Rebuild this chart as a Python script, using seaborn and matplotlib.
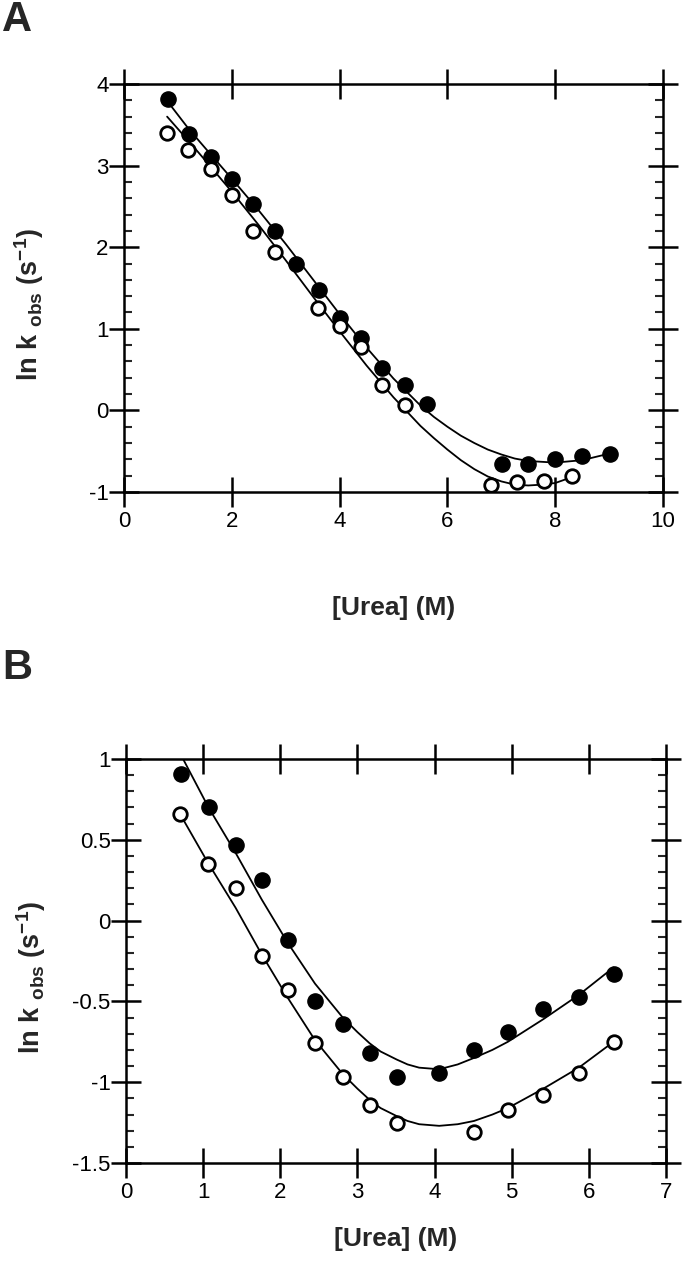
import numpy as np
import pandas as pd
import matplotlib
matplotlib.use("Agg")
import matplotlib.pyplot as plt
from matplotlib.ticker import MultipleLocator
import seaborn as sns

# ---- panel A data ----
a_filled_x = [0.81, 1.20, 1.61, 2.00, 2.40, 2.81, 3.20, 3.61, 4.00, 4.39, 4.79, 5.21, 5.62, 7.01, 7.49, 7.99, 8.50, 9.01]
a_filled_y = [3.82, 3.39, 3.10, 2.83, 2.53, 2.20, 1.79, 1.47, 1.13, 0.89, 0.52, 0.31, 0.08, -0.66, -0.66, -0.59, -0.56, -0.53]
a_open_x = [0.79, 1.19, 1.61, 2.00, 2.40, 2.81, 3.60, 4.00, 4.39, 4.79, 5.21, 6.80, 7.29, 7.80, 8.31]
a_open_y = [3.40, 3.19, 2.96, 2.64, 2.20, 1.94, 1.25, 1.03, 0.78, 0.31, 0.07, -0.92, -0.88, -0.87, -0.80]

a_fit_filled_x = [0.85, 1.2, 1.5, 2.0, 2.5, 3.0, 3.5, 4.0, 4.5, 5.0, 5.5, 5.75, 6.0, 6.25, 6.5, 6.75, 7.0, 7.25, 7.5, 8.0, 8.5, 9.0]
a_fit_filled_y = [3.75, 3.45, 3.22, 2.84, 2.45, 2.04, 1.61, 1.18, 0.77, 0.39, 0.06, -0.08, -0.20, -0.31, -0.40, -0.48, -0.54, -0.59, -0.62, -0.64, -0.61, -0.53]
a_fit_open_x = [0.80, 1.2, 1.5, 2.0, 2.5, 3.0, 3.5, 4.0, 4.5, 5.0, 5.5, 5.75, 6.0, 6.25, 6.5, 6.75, 7.0, 7.25, 7.5, 7.75, 8.0, 8.3]
a_fit_open_y = [3.60, 3.30, 3.07, 2.68, 2.27, 1.84, 1.40, 0.97, 0.55, 0.16, -0.19, -0.34, -0.48, -0.61, -0.72, -0.81, -0.87, -0.91, -0.92, -0.91, -0.89, -0.82]

# ---- panel B data ----
b_filled_x = [0.71, 1.07, 1.42, 1.76, 2.10, 2.45, 2.81, 3.16, 3.51, 4.06, 4.51, 4.95, 5.41, 5.87, 6.32]
b_filled_y = [0.91, 0.70, 0.47, 0.25, -0.12, -0.50, -0.64, -0.82, -0.97, -0.94, -0.80, -0.69, -0.55, -0.47, -0.33]
b_open_x = [0.70, 1.06, 1.42, 1.76, 2.10, 2.45, 2.81, 3.16, 3.51, 4.51, 4.95, 5.41, 5.87, 6.32]
b_open_y = [0.66, 0.35, 0.20, -0.22, -0.43, -0.76, -0.97, -1.14, -1.25, -1.31, -1.17, -1.08, -0.94, -0.75]

b_fit_filled_x = [0.74, 1.07, 1.42, 1.76, 2.10, 2.45, 2.81, 3.0, 3.16, 3.3, 3.51, 3.65, 3.80, 4.06, 4.3, 4.51, 4.75, 4.95, 5.41, 5.87, 6.32]
b_fit_filled_y = [1.00, 0.70, 0.42, 0.13, -0.14, -0.39, -0.60, -0.69, -0.76, -0.81, -0.86, -0.89, -0.91, -0.92, -0.89, -0.85, -0.80, -0.75, -0.61, -0.46, -0.29]
b_fit_open_x = [0.70, 1.06, 1.42, 1.76, 2.10, 2.45, 2.81, 3.0, 3.16, 3.3, 3.51, 3.65, 3.80, 4.06, 4.3, 4.51, 4.75, 4.95, 5.41, 5.87, 6.32]
b_fit_open_y = [0.66, 0.36, 0.08, -0.21, -0.48, -0.74, -0.95, -1.04, -1.11, -1.16, -1.21, -1.24, -1.26, -1.27, -1.26, -1.24, -1.20, -1.16, -1.04, -0.91, -0.75]

sns.set_style("ticks")
plt.rcParams['font.family'] = ['Liberation Sans', 'DejaVu Sans']
plt.rcParams['mathtext.fontset'] = 'custom'
plt.rcParams['mathtext.rm'] = 'Liberation Sans:bold'
plt.rcParams['mathtext.default'] = 'rm'

fig = plt.figure(figsize=(6.85, 12.8), dpi=100)
W, H = 685, 1280


def make_ax(l, r, t, b):
    return fig.add_axes([l / W, 1 - b / H, (r - l) / W, (b - t) / H])


def draw_panel(ax, fx, fy, ox, oy, ffx, ffy, fox, foy):
    sns.lineplot(x=ffx, y=ffy, ax=ax, color="black", lw=1.3, sort=False, estimator=None)
    sns.lineplot(x=fox, y=foy, ax=ax, color="black", lw=1.3, sort=False, estimator=None)
    sns.scatterplot(x=fx, y=fy, ax=ax, color="black", s=120, edgecolor="black", linewidth=1, zorder=5)
    sns.scatterplot(x=ox, y=oy, ax=ax, facecolor="white", s=95, edgecolor="black", linewidth=2, zorder=5)


def style_axes(ax):
    for sp in ax.spines.values():
        sp.set_visible(True)
        sp.set_linewidth(1.8)
        sp.set_color("black")
    ax.tick_params(which="major", direction="inout", length=22, width=1.8,
                   top=True, right=True, labelsize=16, pad=3, colors="black")
    ax.tick_params(axis="y", which="major", pad=0)
    ax.tick_params(axis="y", which="minor", direction="in", length=6, width=1.5,
                   left=True, right=True)
    ax.tick_params(axis="x", which="minor", bottom=False, top=False)
    ax.set_ylabel(r"ln k $_{\mathregular{obs}}$ (s$^{\mathregular{-1}}$)", fontsize=19.5, fontweight="bold")
    ax.set_xlabel("[Urea] (M)", fontsize=19, fontweight="bold")
    ax.yaxis.set_major_formatter(plt.FuncFormatter(lambda v, p: f"{v:g}"))


# panel A
ax1 = make_ax(124, 663, 84, 492)
draw_panel(ax1, a_filled_x, a_filled_y, a_open_x, a_open_y,
           a_fit_filled_x, a_fit_filled_y, a_fit_open_x, a_fit_open_y)
ax1.set_xlim(0, 10)
ax1.set_ylim(-1, 4)
ax1.xaxis.set_major_locator(MultipleLocator(2))
ax1.yaxis.set_major_locator(MultipleLocator(1))
ax1.yaxis.set_minor_locator(MultipleLocator(0.2))
style_axes(ax1)
ax1.xaxis.set_label_coords(0.5, -0.255)
ax1.yaxis.set_label_coords(-0.145, 0.46)

# panel B
ax2 = make_ax(126, 666, 759, 1163)
draw_panel(ax2, b_filled_x, b_filled_y, b_open_x, b_open_y,
           b_fit_filled_x, b_fit_filled_y, b_fit_open_x, b_fit_open_y)
ax2.set_xlim(0, 7)
ax2.set_ylim(-1.5, 1)
ax2.xaxis.set_major_locator(MultipleLocator(1))
ax2.yaxis.set_major_locator(MultipleLocator(0.5))
ax2.yaxis.set_minor_locator(MultipleLocator(0.1))
style_axes(ax2)
ax2.xaxis.set_label_coords(0.5, -0.158)
ax2.yaxis.set_label_coords(-0.145, 0.46)

fig.text(2 / W, 1 - 0 / H, "A", fontsize=30, fontweight="bold", va="top", ha="left")
fig.text(2 / W, 1 - 648 / H, "B", fontsize=30, fontweight="bold", va="top", ha="left")

fig.savefig("out.png", dpi=100)
